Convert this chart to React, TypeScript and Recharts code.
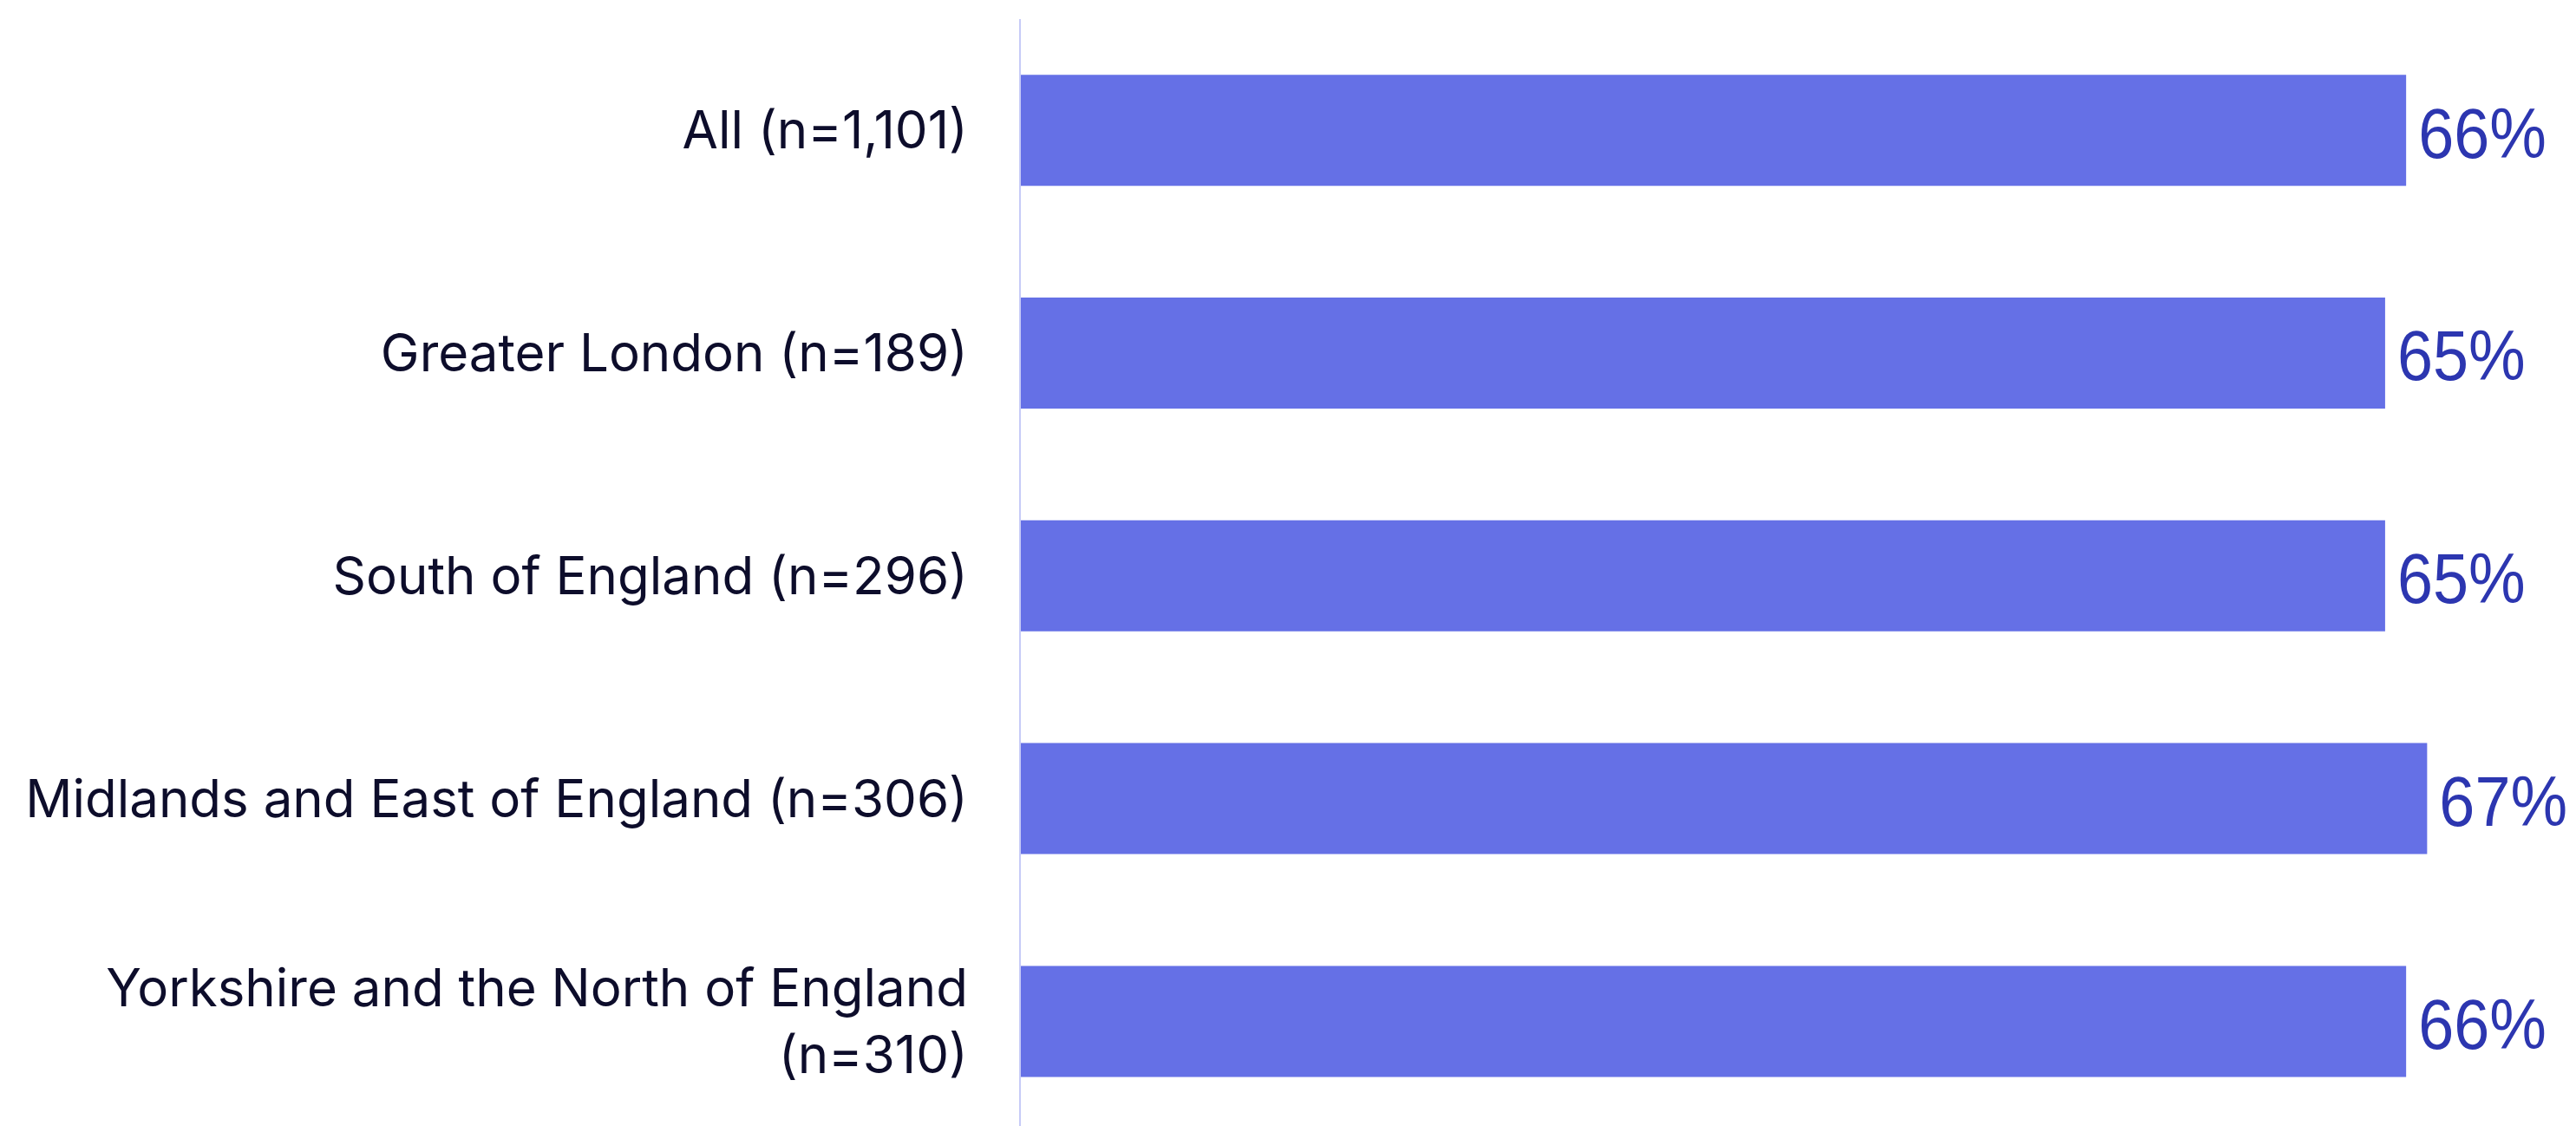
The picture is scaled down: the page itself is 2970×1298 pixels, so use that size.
import React from 'react';
import { Bar, BarChart, LabelList, XAxis, YAxis } from 'recharts';

const regions = [
  'All (n=1,101)',
  'Greater London (n=189)',
  'South of England (n=296)',
  'Midlands and East of England (n=306)',
  'Yorkshire and the North of England (n=310)',
];

const shares = [66, 65, 65, 67, 66];

const chartData = regions.map((name, i) => ({ name, value: shares[i] }));

const RegionTick = (props: any) => {
  const { x, y, payload } = props;
  const label: string = payload.value;
  // long labels wrap before the sample size, like the original
  const cut = label.lastIndexOf(' (');
  const lines = label.length > 40 ? [label.slice(0, cut), label.slice(cut + 1)] : [label];
  const lineHeight = 77;
  const startDy = -((lines.length - 1) * lineHeight) / 2;

  return (
    <text
      x={x}
      y={y}
      textAnchor='end'
      fill='#0d0d2b'
      fontSize={60}
      fontFamily='Inter, sans-serif'
    >
      {lines.map((line, i) => (
        <tspan key={i} x={x} dy={i === 0 ? startDy + 21 : lineHeight}>
          {line}
        </tspan>
      ))}
    </text>
  );
};

// value label, a bit condensed like the source
const ValueLabel = (props: any) => {
  const { x, y, width, height, value } = props;
  const tx = Number(x) + Number(width) + 14;
  const ty = Number(y) + Number(height) / 2 + 3;
  return (
    <text
      transform={`translate(${tx},${ty}) scale(0.9,1)`}
      x={0}
      y={0}
      dominantBaseline='central'
      fill='#2c36b0'
      fontSize={82}
      fontFamily='Liberation Sans, Arial, sans-serif'
    >
      {`${value}%`}
    </text>
  );
};

const App = () => {
  return (
    <div
      style={{
        position: 'absolute',
        left: 0,
        top: 0,
        width: 2970,
        height: 1298,
        overflow: 'hidden',
        background: '#fff',
      }}
    >
      <BarChart
        width={2970}
        height={1310}
        data={chartData}
        layout='vertical'
        barCategoryGap='25%'
        margin={{ top: 22, right: 99, bottom: 4, left: 0 }}
      >
        <XAxis type='number' domain={[0, 70]} hide />
        <YAxis
          type='category'
          dataKey='name'
          width={1176}
          tickSize={0}
          tickMargin={60}
          tickLine={false}
          axisLine={{ stroke: '#c7cbf7', strokeWidth: 2 }}
          tick={<RegionTick />}
          interval={0}
        />
        <Bar dataKey='value' fill='#6570e6' isAnimationActive={false}>
          <LabelList dataKey='value' content={<ValueLabel />} />
        </Bar>
      </BarChart>
    </div>
  );
};

export default App;
